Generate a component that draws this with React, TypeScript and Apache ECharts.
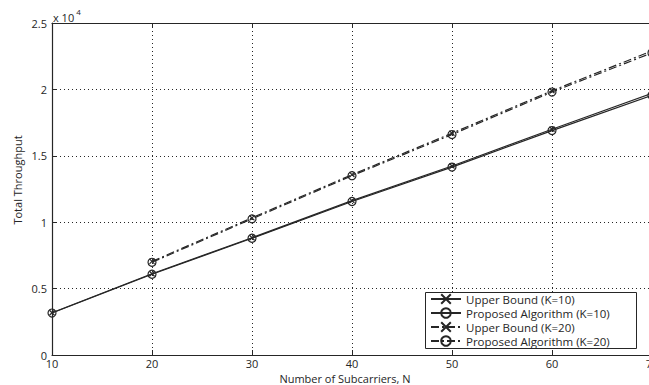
import React, { useEffect, useRef } from "react";
import * as echarts from "echarts";

const xK10 = [10, 20, 30, 40, 50, 60, 70];
const ubK10 = [3180, 6120, 8830, 11620, 14230, 17000, 19700];
const paK10 = [3160, 6080, 8790, 11560, 14150, 16900, 19550];
const xK20 = [20, 30, 40, 50, 60, 70];
const ubK20 = [7050, 10330, 13580, 16700, 19900, 22900];
const paK20 = [6980, 10250, 13500, 16600, 19800, 22750];
const seriesNames = [
  "Upper Bound (K=10)",
  "Proposed Algorithm (K=10)",
  "Upper Bound (K=20)",
  "Proposed Algorithm (K=20)",
];

const FONT = "Open Sans";
const INK = "#262626";
const CROSS = "path://M0 0L10 10M10 0L0 10";

export default function App() {
  const ref = useRef<HTMLDivElement>(null);
  useEffect(() => {
    if (!ref.current) return;
    const chart = echarts.init(ref.current, null, { renderer: "svg" });
    const pairs = (xs: number[], ys: number[]) => xs.map((x, i) => [x, ys[i]]);
    const mk = (name: string, data: number[][], dashed: boolean, cross: boolean) => ({
      name,
      type: "line",
      data,
      symbol: cross ? CROSS : "circle",
      symbolSize: cross ? 5 : 8,
      showAllSymbol: true,
      lineStyle: {
        color: INK,
        width: 1.2,
        type: dashed ? [8, 3, 2, 3] : "solid",
      },
      itemStyle: { color: "rgba(0,0,0,0)", borderColor: INK, borderWidth: 1.2 },
      emphasis: { disabled: true },
    });
    chart.setOption({
      animation: false,
      textStyle: { fontFamily: FONT },
      grid: {
        left: 52,
        top: 23,
        width: 600,
        height: 332,
        containLabel: false,
        outerBoundsMode: "none",
      },
      xAxis: [
        {
          type: "value",
          min: 10,
          max: 70,
          interval: 10,
          axisLine: { lineStyle: { color: INK, width: 1.2 } },
          axisTick: { inside: true, length: 5, lineStyle: { color: INK } },
          axisLabel: { color: INK, fontSize: 11, lineHeight: 11, margin: 3, fontFamily: FONT },
          splitLine: { show: true, lineStyle: { color: INK, type: [1, 3], width: 1 } },
        },
        {
          type: "value",
          position: "top",
          min: 10,
          max: 70,
          interval: 10,
          axisLine: { show: true, onZero: false, lineStyle: { color: INK, width: 1.2 } },
          axisTick: { inside: true, length: 5, lineStyle: { color: INK } },
          axisLabel: { show: false },
          splitLine: { show: false },
        },
      ],
      yAxis: {
        type: "value",
        min: 0,
        max: 25000,
        interval: 5000,
        axisLine: { show: true, lineStyle: { color: INK, width: 1.2 } },
        axisTick: { show: true, inside: true, length: 5, lineStyle: { color: INK } },
        axisLabel: {
          color: INK,
          fontSize: 11,
          margin: 5,
          fontFamily: FONT,
          formatter: (v: number) => String(v / 10000),
        },
        splitLine: { show: true, lineStyle: { color: INK, type: [1, 3], width: 1 } },
      },
      legend: {
        orient: "vertical",
        left: 425,
        top: 292,
        padding: [1, 0, 0, 5],
        itemGap: 2,
        itemWidth: 30,
        itemHeight: 12,
        borderWidth: 0,
        z: 5,
        textStyle: { color: INK, fontSize: 11.5, lineHeight: 12, fontFamily: FONT },
        data: seriesNames,
      },
      graphic: [
        {
          type: "rect",
          z: 3,
          shape: { x: 425.5, y: 292.5, width: 211, height: 56 },
          style: { fill: "#fff", stroke: INK, lineWidth: 1 },
        },
        {
          type: "text",
          left: 53,
          top: 7,
          style: {
            text: "{a|x 10}{b|4}",
            rich: {
              a: { fontSize: 11, fontFamily: FONT, fill: INK, verticalAlign: "bottom" },
              b: { fontSize: 8, fontFamily: FONT, fill: INK, padding: [0, 0, 8, 2] },
            },
          },
        },
        {
          type: "text",
          x: 17,
          y: 180,
          rotation: Math.PI / 2,
          style: {
            text: "Total Throughput",
            fontSize: 11,
            fontFamily: FONT,
            fill: INK,
            align: "center",
            verticalAlign: "middle",
          },
        },
        {
          type: "text",
          x: 345,
          y: 378.5,
          style: {
            text: "Number of Subcarriers, N",
            fontSize: 11,
            lineHeight: 11,
            fontFamily: FONT,
            fill: INK,
            align: "center",
            verticalAlign: "middle",
          },
        },
      ],
      series: [
        mk(seriesNames[0], pairs(xK10, ubK10), false, true),
        mk(seriesNames[1], pairs(xK10, paK10), false, false),
        mk(seriesNames[2], pairs(xK20, ubK20), true, true),
        mk(seriesNames[3], pairs(xK20, paK20), true, false),
      ],
    });
    return () => chart.dispose();
  }, []);
  return (
    <div
      ref={ref}
      style={{ position: "fixed", left: 0, top: 0, width: 649, height: 385, background: "#fff" }}
    />
  );
}
